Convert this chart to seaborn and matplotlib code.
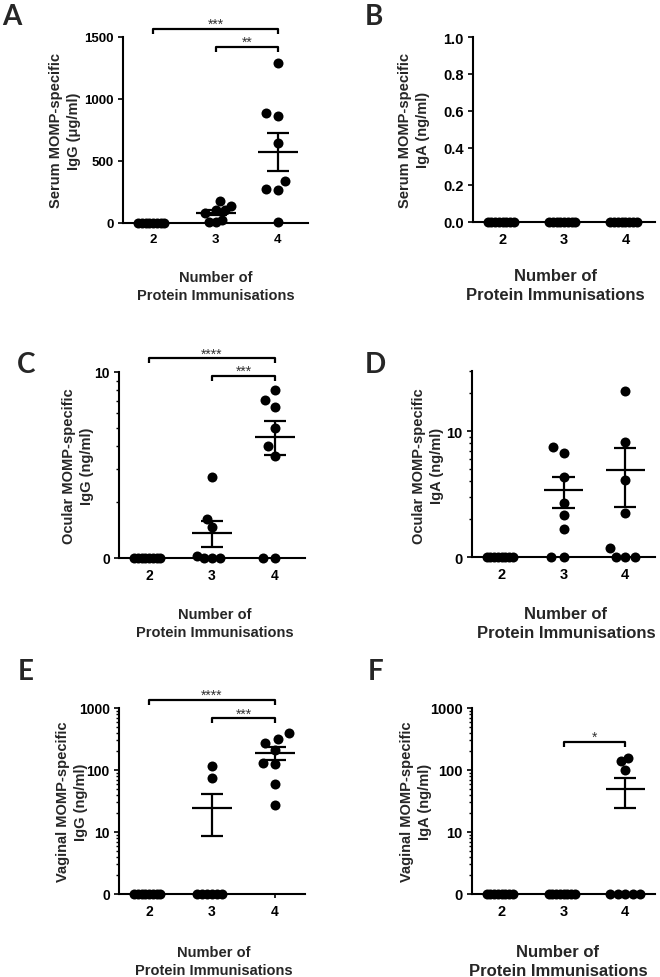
import numpy as np
import pandas as pd
import matplotlib
matplotlib.use("Agg")
import matplotlib.pyplot as plt
import matplotlib.ticker as mticker
from matplotlib.transforms import blended_transform_factory
import seaborn as sns

groups = ["2", "3", "4"]

# A - serum MOMP-specific IgG (ug/ml)
serum_igg = [
    [0, 0, 0, 0, 0, 0, 0, 0],
    [175, 135, 108, 108, 84, 27, 11, 5],
    [1290, 886, 864, 646, 342, 275, 269, 11],
]
serum_igg_mean = [0, 82, 573]
serum_igg_sem = [0, 20, 150]

# B - serum MOMP-specific IgA (ng/ml)
serum_iga = [
    [0, 0, 0, 0, 0, 0, 0, 0],
    [0, 0, 0, 0, 0, 0, 0, 0],
    [0, 0, 0, 0, 0, 0, 0, 0],
]
serum_iga_mean = [0, 0, 0]
serum_iga_sem = [0, 0, 0]

# C - ocular MOMP-specific IgG (ng/ml)
ocular_igg = [
    [0, 0, 0, 0, 0, 0, 0, 0],
    [2.74, 1.62, 1.46, 1.03, 0, 0, 0],
    [7.97, 7.04, 6.48, 4.99, 3.98, 3.53, 0, 0],
]
ocular_igg_mean = [0, 1.36, 4.50]
ocular_igg_sem = [0, 0.22, 0.93]

# D - ocular MOMP-specific IgA (ng/ml)
ocular_iga = [
    [0, 0, 0, 0, 0, 0, 0, 0],
    [7.50, 6.72, 4.33, 2.69, 2.17, 1.68, 0, 0],
    [20.8, 8.23, 4.12, 2.24, 1.18, 0, 0, 0],
]
ocular_iga_mean = [0, 3.39, 4.95]
ocular_iga_sem = [0, 0.93, 2.44]

# E - vaginal MOMP-specific IgG (ng/ml)
vaginal_igg = [
    [0, 0, 0, 0, 0, 0, 0, 0],
    [114, 74, 0, 0, 0, 0, 0, 0],
    [391, 316, 269, 210, 130, 125, 59, 27],
]
vaginal_igg_mean = [0, 24.5, 191]
vaginal_igg_sem = [0, 15.8, 45]

# F - vaginal MOMP-specific IgA (ng/ml)
vaginal_iga = [
    [0, 0, 0, 0, 0, 0, 0, 0],
    [0, 0, 0, 0, 0, 0, 0, 0],
    [154, 141, 101, 0, 0, 0, 0, 0],
]
vaginal_iga_mean = [0, 0, 49.5]
vaginal_iga_sem = [0, 0, 25]

W, H = 660, 978
XLIM = (-0.48, 2.48)
DOT_PT = 7.2       # drawn dot diameter (~10 px)
SWARM_PT = 8.3     # spacing used when seaborn lays out the swarm (~11.5 px)
MAX_HALF_PX = 15   # widest half-spread of a column

sns.set_style("ticks")
plt.rcParams["font.family"] = ["Liberation Sans", "DejaVu Sans"]
plt.rcParams["font.weight"] = "bold"

fig = plt.figure(figsize=(W / 100, H / 100), dpi=100)


def px_axes(left, top, right, bottom):
    return fig.add_axes([left / W, 1 - bottom / H, (right - left) / W, (bottom - top) / H])


def px_text(x, y, s, **kw):
    fig.text(x / W, 1 - y / H, s, **kw)


def panel(ax, values, means, sems, log=False, labelsize=9.5):
    df = pd.DataFrame(
        [(g, v) for g, vals in zip(groups, values) for v in vals],
        columns=["group", "value"],
    )
    if log:
        # zeros sit on the "0" baseline of the log axis
        df["value"] = df["value"].where(df["value"] > 0, 1)
    n0 = len(ax.collections)
    sns.swarmplot(data=df, x="group", y="value", order=groups, color="black",
                  size=SWARM_PT, linewidth=0, ax=ax, log_scale=True if log else None,
                  warn_thresh=1, zorder=3)
    dots = ax.collections[n0:]

    for i, (m, s) in enumerate(zip(means, sems)):
        if m <= 0:
            continue
        ax.hlines(m, i - 0.32, i + 0.32, color="black", lw=1.6, zorder=4)
        ax.hlines([m - s, m + s], i - 0.18, i + 0.18, color="black", lw=1.6, zorder=4)
        ax.vlines(i, m - s, m + s, color="black", lw=1.6, zorder=4)

    for side in ("top", "right"):
        ax.spines[side].set_visible(False)
    for side in ("left", "bottom"):
        ax.spines[side].set_linewidth(1.5)
        ax.spines[side].set_color("black")
    ax.tick_params(axis="both", which="major", direction="out", width=1.2,
                   color="black", labelsize=labelsize, labelcolor="black")
    ax.tick_params(axis="y", which="major", length=3.6, pad=3)
    ax.tick_params(axis="x", which="major", length=3.0, pad=4)
    ax.tick_params(axis="y", which="minor", direction="out", length=2.2, width=1.0, color="black")
    ax.set_xlim(*XLIM)
    ax.set_xlabel("")
    ax.set_ylabel("")
    return dots


def log_axis(ax, top, majors, labels):
    ax.set_yscale("log")
    ax.set_ylim(1, top)
    ax.yaxis.set_major_locator(mticker.FixedLocator(majors))
    ax.yaxis.set_major_formatter(mticker.FixedFormatter(labels))
    ax.yaxis.set_minor_locator(mticker.LogLocator(base=10, subs=np.arange(2, 10), numticks=20))
    ax.yaxis.set_minor_formatter(mticker.NullFormatter())


def bracket(ax, i, j, y, label, drop=0.027):
    tr = blended_transform_factory(ax.transData, ax.transAxes)
    ax.plot([i, i, j, j], [y - drop, y, y, y - drop], color="black", lw=1.6,
            transform=tr, clip_on=False, solid_capstyle="butt")
    ax.text((i + j) / 2, y + 0.004, label, transform=tr, ha="center", va="baseline",
            fontsize=10, fontweight="normal", color="#333333", clip_on=False)


all_dots = []

# A
ax = px_axes(123, 38, 308, 224)
all_dots.append((ax, panel(ax, serum_igg, serum_igg_mean, serum_igg_sem)))
ax.set_ylim(0, 1500)
ax.set_yticks([0, 500, 1000, 1500])
bracket(ax, 0, 2, 1.043, "***")
bracket(ax, 1, 2, 0.948, "**")

# B
ax = px_axes(473, 38, 655, 223)
all_dots.append((ax, panel(ax, serum_iga, serum_iga_mean, serum_iga_sem, labelsize=10.5)))
ax.set_ylim(0, 1)
ax.set_yticks(np.linspace(0, 1, 6))
ax.yaxis.set_major_formatter(mticker.FormatStrFormatter("%.1f"))

# C
ax = px_axes(119, 373, 305, 559)
all_dots.append((ax, panel(ax, ocular_igg, ocular_igg_mean, ocular_igg_sem, log=True, labelsize=10)))
log_axis(ax, 10, [1, 10], ["0", "10"])
bracket(ax, 0, 2, 1.074, "****")
bracket(ax, 1, 2, 0.980, "***")

# D
ax = px_axes(472, 372, 655, 558)
all_dots.append((ax, panel(ax, ocular_iga, ocular_iga_mean, ocular_iga_sem, log=True, labelsize=10.5)))
log_axis(ax, 30, [1, 10], ["0", "10"])

# E
ax = px_axes(119, 709, 305, 895)
all_dots.append((ax, panel(ax, vaginal_igg, vaginal_igg_mean, vaginal_igg_sem, log=True, labelsize=10)))
log_axis(ax, 1000, [1, 10, 100, 1000], ["0", "10", "100", "1000"])
bracket(ax, 0, 2, 1.043, "****")
bracket(ax, 1, 2, 0.945, "***")

# F
ax = px_axes(472, 709, 655, 895)
all_dots.append((ax, panel(ax, vaginal_iga, vaginal_iga_mean, vaginal_iga_sem, log=True, labelsize=10.5)))
log_axis(ax, 1000, [1, 10, 100, 1000], ["0", "10", "100", "1000"])
bracket(ax, 1, 2, 0.819, "*")

# axis titles
ylabels = [
    (65, 131, "Serum MOMP-specific\nIgG (\u03bcg/ml)"),
    (414, 130, "Serum MOMP-specific\nIgA (ng/ml)"),
    (78, 466, "Ocular MOMP-specific\nIgG (ng/ml)"),
    (428, 466, "Ocular MOMP-specific\nIgA (ng/ml)"),
    (72, 802, "Vaginal MOMP-specific\nIgG (ng/ml)"),
    (416, 802, "Vaginal MOMP-specific\nIgA (ng/ml)"),
]
for x, y, s in ylabels:
    px_text(x, y, s, rotation=90, ha="center", va="center", multialignment="center",
            fontsize=10.5, fontweight="bold", linespacing=1.35)

xlabel = "Number of\nProtein Immunisations"
for x, y, size in [(216, 287, 10.5), (555, 286, 12), (215, 624, 10.5),
                   (566, 624, 12), (214, 962, 10.5), (558, 962, 12)]:
    px_text(x, y, xlabel, ha="center", va="center", multialignment="center",
            fontsize=size, fontweight="bold", linespacing=1.3)

for x, y, s in [(2, 25, "A"), (365, 25, "B"), (17, 373, "C"),
                (365, 373, "D"), (18, 680, "E"), (368, 680, "F")]:
    px_text(x, y, s, ha="left", va="baseline", fontsize=20, fontweight="bold",
            family=["Lato", "DejaVu Sans"])

# seaborn places the swarm at draw time. Lay it out on a zoomed-in x range so
# nothing hits the column gutters, freeze it, then squeeze wide columns like GraphPad.
for ax, _ in all_dots:
    ax.set_xlim(-0.5, 0.5)
fig.canvas.draw()
for ax, dots in all_dots:
    layout_ppu = ax.bbox.width / 1.0
    ax.set_xlim(*XLIM)
    final_ppu = ax.bbox.width / (XLIM[1] - XLIM[0])
    for coll in dots:
        coll.__dict__.pop("draw", None)
        off = np.asarray(coll.get_offsets()).copy()
        center = np.round(np.median(off[:, 0]))
        dx = (off[:, 0] - center) * layout_ppu
        spread = np.abs(dx).max()
        factor = 1.0 if spread <= MAX_HALF_PX else MAX_HALF_PX / spread
        off[:, 0] = center + dx * factor / final_ppu
        coll.set_offsets(off)
        coll.set_sizes([DOT_PT ** 2])
        coll.set_clip_on(False)

fig.savefig("out.png", dpi=100)
